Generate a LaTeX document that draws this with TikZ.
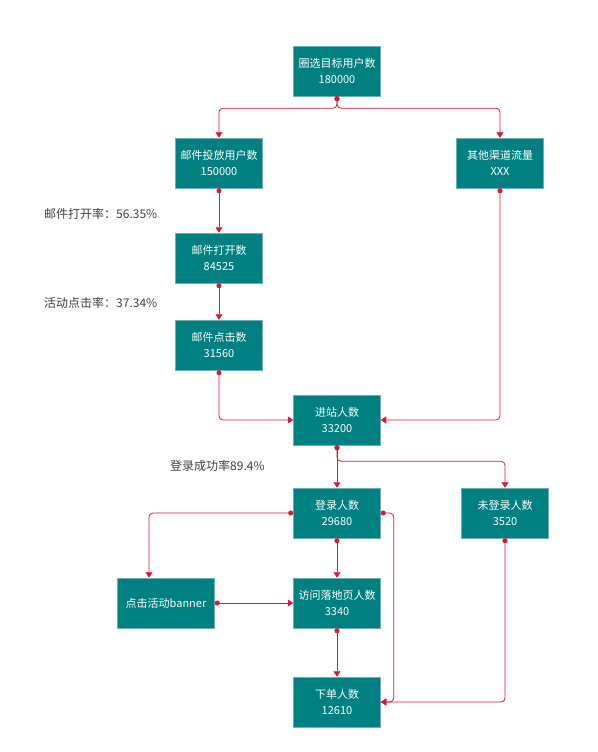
\documentclass[tikz,border=0pt]{standalone}
\usepackage{fontspec}
\setmainfont{Noto Sans CJK SC}
\usetikzlibrary{positioning, calc}
\usetikzlibrary{arrows, arrows.meta}
\definecolor{boxteal}{RGB}{0,128,128}
\definecolor{boxedge}{RGB}{110,175,175}
\definecolor{linkred}{RGB}{218,24,52}
\tikzset{ stepbox/.style={
         draw=boxedge, fill=boxteal, text=white, line width=0.5pt,
         minimum width=87pt, minimum height=50pt, inner sep=0pt,
         align=center, font=\fontsize{11}{15.5}\selectfont}, 
        link/.style={linkred, line width=0.8pt, rounded corners=4pt,
         {Circle[length=5pt,width=5pt]}-{Triangle[width=7pt,length=5.5pt]}}, 
        ratelabel/.style={anchor=west, inner sep=0pt, text=black!75,
         font=\fontsize{12}{14}\selectfont}}

\begin{document}
\begin{tikzpicture}[x=1pt,y=-1pt]
\useasboundingbox (0,0) rectangle (597,752);

% boxes
\node[stepbox] (target) at (337,71) {圈选目标用户数\\180000};
\node[stepbox] (mail)   at (219,163) {邮件投放用户数\\150000};
\node[stepbox] (other)  at (500,163) {其他渠道流量\\XXX};
\node[stepbox] (open)   at (219,258) {邮件打开数\\84525};
\node[stepbox] (click)  at (219,345) {邮件点击数\\31560};
\node[stepbox] (enter)  at (337,420) {进站人数\\33200};
\node[stepbox] (login)  at (337,513) {登录人数\\29680};
\node[stepbox] (nolog)  at (505,513) {未登录人数\\3520};
\node[stepbox, minimum width=97pt] (banner) at (166,603) {点击活动banner};
\node[stepbox] (visit)  at (337,603) {访问落地页人数\\3340};
\node[stepbox] (order)  at (337,702) {下单人数\\12610};

% rates
\node[ratelabel] (openrate)  at (44,214) {邮件打开率：56.35\%};
\node[ratelabel] (clickrate) at (44,303) {活动点击率：37.34\%};
\node[ratelabel] (loginrate) at (170,466) {登录成功率89.4\%};

% straight links
\foreach \a/\b in {mail/open, open/click, login/visit, visit/order}
  \draw[link] (\a.south) -- (\b.north);
\draw[link] (banner.east) -- (visit.west);

% branching links
\draw[link] (target.south) -- ++(0,12) -| (mail.north);
\draw[link] (target.south) -- ++(0,12) -| (other.north);
\draw[link] (click.south) |- (enter.west);
\draw[link] (other.south) |- (enter.east);
\draw[link] (enter.south) -- (login.north);
\draw[link] (enter.south) -- ++(0,16) -| (nolog.north);
\draw[link] (login.west) -| ([xshift=-17pt]banner.north);
\draw[link] (login.east) -- ++(13,0) |- (order.east);
\draw[link] (nolog.south) |- (order.east);

\end{tikzpicture}
\end{document}
